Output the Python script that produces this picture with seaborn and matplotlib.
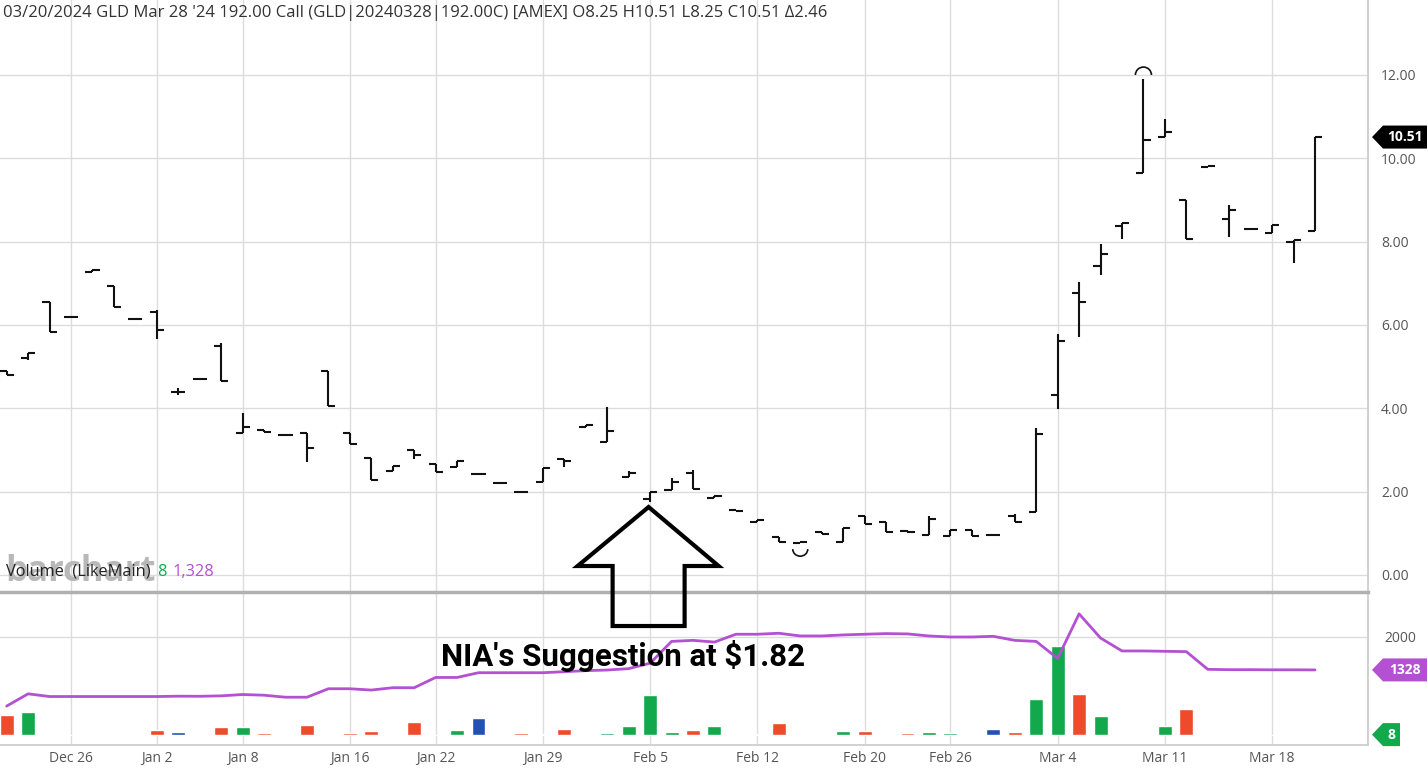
import numpy as np
import pandas as pd
import seaborn as sns
import matplotlib.pyplot as plt
from matplotlib.patches import Arc, Polygon
from matplotlib.transforms import IdentityTransform

# trading days shown on the chart
days = ["Dec 20", "Dec 21", "Dec 22", "Dec 26", "Dec 27", "Dec 28", "Dec 29",
        "Jan 2", "Jan 3", "Jan 4", "Jan 5", "Jan 8", "Jan 9", "Jan 10", "Jan 11", "Jan 12",
        "Jan 16", "Jan 17", "Jan 18", "Jan 19", "Jan 22", "Jan 23", "Jan 24", "Jan 25", "Jan 26",
        "Jan 29", "Jan 30", "Jan 31", "Feb 1", "Feb 2", "Feb 5", "Feb 6", "Feb 7", "Feb 8", "Feb 9",
        "Feb 12", "Feb 13", "Feb 14", "Feb 15", "Feb 16", "Feb 20", "Feb 21", "Feb 22", "Feb 23",
        "Feb 26", "Feb 27", "Feb 28", "Feb 29", "Mar 1", "Mar 4", "Mar 5", "Mar 6", "Mar 7", "Mar 8",
        "Mar 11", "Mar 12", "Mar 13", "Mar 14", "Mar 15", "Mar 18", "Mar 19", "Mar 20"]

opens = [4.90, 5.20, 6.54, 6.20, 7.28, 6.94, 6.14, 6.31, 4.40, 4.70, 5.50, 3.40, 3.48, 3.35, 3.41, 4.90,
         3.40, 2.80, 2.50, 3.00, 2.66, 2.58, 2.42, 2.21, 2.00, 2.24, 2.78, 3.56, 3.20, 2.34, 1.82, 2.04,
         2.44, 1.84, 1.56, 1.26, 0.90, 0.76, 1.04, 0.80, 1.42, 1.28, 1.06, 0.96, 0.94, 1.08, 0.96, 1.42,
         1.52, 4.32, 6.77, 7.41, 8.37, 9.65, 10.51, 9.01, 9.78, 8.54, 8.31, 8.21, 7.99, 8.25]
highs = [4.90, 5.33, 6.54, 6.20, 7.32, 6.94, 6.14, 6.36, 4.48, 4.70, 5.56, 3.88, 3.48, 3.35, 3.41, 4.90,
         3.40, 2.80, 2.62, 3.00, 2.66, 2.73, 2.42, 2.21, 2.00, 2.56, 2.78, 3.61, 4.04, 2.50, 2.00, 2.32,
         2.52, 1.90, 1.56, 1.32, 0.90, 0.78, 1.04, 1.12, 1.42, 1.28, 1.08, 1.42, 1.08, 1.08, 0.96, 1.46,
         3.52, 5.78, 7.04, 7.95, 8.45, 11.90, 10.94, 9.01, 9.81, 8.89, 8.31, 8.41, 8.05, 10.51]
lows = [4.80, 5.16, 5.82, 6.20, 7.28, 6.44, 6.14, 5.66, 4.32, 4.70, 4.66, 3.40, 3.44, 3.35, 2.70, 4.06,
        3.14, 2.28, 2.50, 2.78, 2.46, 2.58, 2.42, 2.21, 1.98, 2.24, 2.58, 3.56, 3.20, 2.34, 1.76, 2.04,
        2.06, 1.84, 1.54, 1.26, 0.78, 0.76, 0.98, 0.80, 1.22, 1.02, 1.02, 0.96, 0.94, 0.94, 0.96, 1.26,
        1.52, 3.98, 5.70, 7.19, 8.07, 9.65, 10.51, 8.07, 9.78, 8.11, 8.31, 8.21, 7.49, 8.25]
closes = [4.80, 5.33, 5.82, 6.20, 7.32, 6.44, 6.14, 5.88, 4.40, 4.70, 4.66, 3.56, 3.44, 3.35, 3.04, 4.06,
          3.14, 2.28, 2.62, 2.88, 2.46, 2.73, 2.42, 2.21, 1.98, 2.56, 2.73, 3.61, 3.46, 2.44, 1.98, 2.24,
          2.06, 1.90, 1.54, 1.32, 0.78, 0.78, 0.98, 1.12, 1.22, 1.02, 1.02, 1.34, 1.08, 0.94, 0.96, 1.26,
          3.38, 5.62, 6.55, 7.71, 8.45, 10.44, 10.62, 8.07, 9.81, 8.75, 8.31, 8.41, 8.05, 10.51]

volume = [403, 472, 5, 4, 4, 4, 5, 111, 62, 5, 167, 160, 42, 5, 208, 8, 35, 83, 7, 271, 5, 104, 354, 5,
          35, 14, 125, 7, 49, 188, 826, 69, 97, 181, 28, 28, 236, 28, 21, 90, 90, 21, 49, 62, 35, 21,
          132, 69, 729, 1806, 833, 382, 21, 28, 174, 535, 6, 8, 5, 6, 7, 8]
open_interest = [590, 840, 785, 785, 785, 785, 785, 785, 792, 790, 799, 826, 812, 771, 771, 944, 944, 917,
                 965, 965, 1174, 1174, 1271, 1271, 1271, 1271, 1292, 1313, 1326, 1354, 1465, 1910, 1931,
                 1896, 2056, 2056, 2076, 2021, 2021, 2042, 2056, 2069, 2063, 2021, 2000, 2000, 2014, 1931,
                 1910, 1563, 2472, 1979, 1715, 1715, 1708, 1701, 1340, 1333, 1333, 1330, 1330, 1328]

tick_days = ["Dec 26", "Jan 2", "Jan 8", "Jan 16", "Jan 22", "Jan 29", "Feb 5",
             "Feb 12", "Feb 20", "Feb 26", "Mar 4", "Mar 11", "Mar 18"]
price_ticks = [0, 2, 4, 6, 8, 10, 12]

title = ("03/20/2024 GLD Mar 28 '24 192.00 Call (GLD|20240328|192.00C) [AMEX] "
         "O8.25 H10.51 L8.25 C10.51 \u03942.46")

GREEN, RED, BLUE, PURPLE = "#12a84c", "#ee4a2c", "#2250b4", "#b450d2"

sns.set_theme(style="whitegrid", rc={"grid.color": "#dcdcdc", "grid.linewidth": 1.0,
                                     "axes.edgecolor": "#cccccc"})
plt.rcParams["font.family"] = ["Open Sans", "DejaVu Sans"]

df = pd.DataFrame({"idx": np.arange(len(days)), "day": days, "open": opens, "high": highs,
                   "low": lows, "close": closes, "vol": volume, "oi": open_interest})
df["dir"] = np.where(df["close"] > df["open"], "up", np.where(df["close"] < df["open"], "down", "flat"))

W, H = 1428, 774
fig = plt.figure(figsize=(W / 100, H / 100), dpi=100)


def px_rect(l, t, r, b):
    return [l / W, 1 - b / H, (r - l) / W, (b - t) / H]


axp = fig.add_axes(px_rect(0, 0, 1368, 592))
axv = fig.add_axes(px_rect(0, 592, 1368, 745))

# OHLC bars
x = df["idx"].to_numpy()
axp.vlines(x, df["low"], df["high"], color="#111111", lw=1.5)
axp.hlines(df["open"], x - 0.33, x, color="#111111", lw=1.5)
axp.hlines(df["close"], x, x + 0.33, color="#111111", lw=1.5)

# period low / high markers
lo_i = int(df["low"].idxmin())
hi_i = int(df["high"].idxmax())
axp.add_patch(Arc((lo_i, df["low"][lo_i] - 0.14), 0.7, 0.34, theta1=180, theta2=360, color="#111111", lw=1.2))
axp.add_patch(Arc((hi_i, df["high"][hi_i] + 0.1), 0.75, 0.38, theta1=0, theta2=180, color="#111111", lw=1.2))

# volume bars and open interest line
sns.barplot(data=df, x="idx", y="vol", hue="dir", palette={"up": GREEN, "down": RED, "flat": BLUE},
            native_scale=True, width=0.65, dodge=False, errorbar=None, saturation=1,
            legend=False, ax=axv)
sns.lineplot(data=df, x="idx", y="oi", color=PURPLE, lw=2, ax=axv)

xlim = (-0.31, 63.47)
ticks = [days.index(d) for d in tick_days]
for ax in (axp, axv):
    ax.set_xlim(xlim)
    ax.set_xticks(ticks)
    ax.grid(True, axis="both")
    ax.set_axisbelow(True)
    ax.set_xlabel("")
    ax.set_ylabel("")
    ax.yaxis.tick_right()
    ax.spines["left"].set_visible(False)
    ax.spines["top"].set_visible(False)
    ax.spines["right"].set_color("#cccccc")

axp.set_ylim(-0.41, 13.8)
axp.set_yticks(price_ticks)
axp.set_yticklabels([f"{v:.2f}" for v in price_ticks])
axp.tick_params(axis="y", length=0, pad=9.5, labelsize=10, labelcolor="#555555")
axp.tick_params(axis="x", length=0, labelbottom=False)
axp.spines["bottom"].set_visible(False)

axv.set_ylim(-204, 2918)
axv.set_yticks([2000])
axv.set_yticklabels(["2000"])
axv.tick_params(axis="y", length=0, pad=12, labelsize=10, labelcolor="#555555")
axv.set_xticklabels(tick_days)
axv.tick_params(axis="x", length=0, pad=4, labelsize=10, labelcolor="#555555")
axv.spines["top"].set_color("#b0b0b0")
axv.spines["top"].set_linewidth(2.5)
axv.spines["top"].set_visible(True)
axv.spines["bottom"].set_color("#cccccc")

# header text
fig.text(3 / W, 1 - 13 / H, title, fontsize=12, color="#333333", va="center", ha="left")

# watermark and volume legend
fig.text(5 / W, 1 - 581 / H, "barchart", fontsize=25, fontweight="bold", color="#b8b8b8",
         va="baseline", ha="left", zorder=1)
renderer = fig.canvas.get_renderer()
xpos = 6
for txt, col in [("Volume  (LikeMain)", "#222222"), ("8", GREEN), ("1,328", PURPLE)]:
    t = fig.text(xpos / W, 1 - 576 / H, txt, fontsize=11.8, color=col, va="baseline", ha="left", zorder=3)
    xpos += t.get_window_extent(renderer).width + 6


# value tags on the right axis
def tag(ax, yval, text, color, right):
    y = ax.transData.transform((0, yval))[1]
    pts = [(1372, y), (1383, y + 11.5), (right, y + 11.5), (right, y - 11.5), (1383, y - 11.5)]
    fig.add_artist(Polygon(pts, closed=True, facecolor=color, edgecolor="none", transform=IdentityTransform()))
    fig.text((1383 + right) / 2 / W, y / H, text, color="white", fontsize=10, fontweight="bold",
             ha="center", va="center")


tag(axp, closes[-1], f"{closes[-1]:.2f}", "#000000", 1427)
tag(axv, open_interest[-1], f"{open_interest[-1]}", PURPLE, 1427)
tag(axv, volume[-1], f"{volume[-1]}", GREEN, 1400)

# hand drawn style arrow and note
tx, ty = axp.transData.transform((days.index("Feb 5") - 0.07, 1.63))
arrow = [(0, 0), (70, -59), (36, -59), (36, -119), (-36, -119), (-36, -59), (-71, -59)]
fig.add_artist(Polygon([(tx + dx, ty + dy) for dx, dy in arrow], closed=True, fill=False,
                       edgecolor="black", lw=3, joinstyle="miter", transform=IdentityTransform()))
fig.text(441 / W, 1 - 656 / H, "NIA's Suggestion at $1.82", fontsize=22.5, fontweight="bold",
         family=["Roboto", "DejaVu Sans"], color="black", va="center", ha="left", zorder=5)

fig.savefig("out.png", dpi=100)
